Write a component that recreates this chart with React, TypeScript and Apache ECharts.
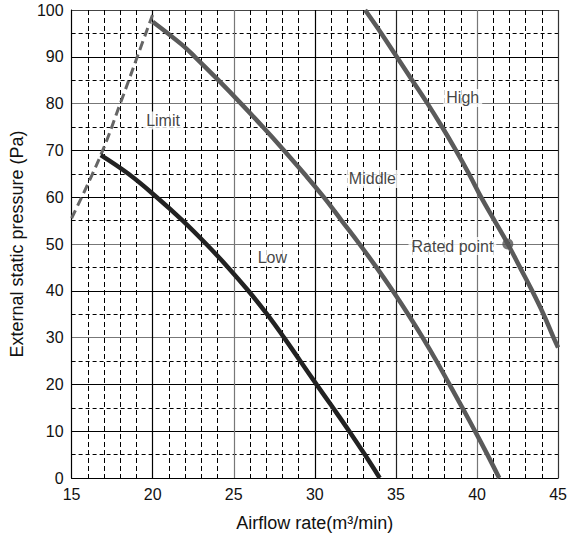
import React, { useEffect, useRef } from "react";
import * as echarts from "echarts";

// Fan curves: [airflow m3/min, static pressure Pa]
const lowCurve: [number, number][] = [
  [16.8, 69], [18.5, 65], [20.25, 60], [21.85, 55], [23.3, 50], [24.65, 45], [25.9, 40],
  [27.05, 35], [28.1, 30], [29.1, 25], [30.1, 20], [31.12, 15], [32.12, 10], [33.08, 5], [34.0, 0],
];
const middleCurve: [number, number][] = [
  [20.0, 97.5], [21.8, 92.6], [22.6, 90], [24.05, 85], [25.45, 80], [26.8, 75], [28.1, 70],
  [29.35, 65], [30.55, 60], [31.65, 55], [32.75, 50], [33.8, 45], [34.8, 40], [35.75, 35],
  [36.65, 30], [37.5, 25], [38.3, 20], [39.1, 15], [39.88, 10], [40.64, 5], [41.37, 0],
];
const highCurve: [number, number][] = [
  [33.1, 100], [34.1, 95], [35.05, 90], [36.0, 85], [36.95, 80], [37.85, 75], [38.7, 70],
  [39.5, 65], [40.25, 60], [41.08, 55], [41.9, 50], [42.65, 45], [43.4, 40], [44.1, 35],
  [44.72, 30], [45.0, 27.9],
];
const limitCurve: [number, number][] = [
  [15, 55.5], [16.8, 69], [18.0, 80], [19.05, 90], [20.1, 100],
];
const ratedPoint: [number, number][] = [[41.9, 50]];

const labelTexts = ["Limit", "Middle", "Low", "High"];
const labelX = [20.64, 33.55, 27.38, 39.12];
const labelY = [76.4, 63.9, 47.1, 81.2];

const xTicks = { min: 15, max: 45, interval: 5 };
const yTicks = { min: 0, max: 100, interval: 10 };

const FONT = "Liberation Sans, Arial, sans-serif";

export default function App() {
  const ref = useRef<HTMLDivElement>(null);
  useEffect(() => {
    document.body.style.margin = "0";
    if (!ref.current) return;
    const chart = echarts.init(ref.current, undefined, { renderer: "svg" });
    const labelStyle = {
      show: true,
      position: "inside",
      color: "#111",
      fontSize: 16,
      fontFamily: FONT,
      backgroundColor: "#fff",
      padding: [1, 3],
      formatter: (p: any) => p.data.name,
    };
    chart.setOption({
      animation: false,
      backgroundColor: "#fff",
      grid: { left: 70, right: 10, top: 10, bottom: 53, containLabel: false },
      xAxis: {
        type: "value",
        ...xTicks,
        name: "Airflow rate(m³/min)",
        nameLocation: "middle",
        nameGap: 36,
        nameTextStyle: { color: "#111", fontSize: 18, fontFamily: FONT },
        axisLine: { show: true, lineStyle: { color: "#000", width: 1 } },
        axisTick: { show: false },
        axisLabel: { color: "#111", fontSize: 16, fontFamily: FONT, margin: 8 },
        splitLine: {
          show: true,
          lineStyle: { color: ["#000", "#000", "#777", "#000", "#222", "#777", "#333"], width: 1.2 },
        },
        minorTick: { show: false, splitNumber: 5 },
        minorSplitLine: { show: true, lineStyle: { color: "#000", type: [5, 3], width: 1 } },
      },
      yAxis: {
        type: "value",
        ...yTicks,
        name: "External static pressure (Pa)",
        nameLocation: "middle",
        nameGap: 43,
        nameTextStyle: { color: "#111", fontSize: 18, fontFamily: FONT },
        axisLine: { show: true, lineStyle: { color: "#000", width: 1 } },
        axisTick: { show: false },
        axisLabel: { color: "#111", fontSize: 16, fontFamily: FONT, margin: 8 },
        splitLine: {
          show: true,
          lineStyle: {
            color: ["#000", "#000", "#000", "#777", "#000", "#777", "#000", "#000", "#777", "#000", "#444"],
            width: 1.2,
          },
        },
        minorTick: { show: false, splitNumber: 2 },
        minorSplitLine: { show: true, lineStyle: { color: "#000", type: [4, 3], width: 1 } },
      },
      series: [
        {
          type: "line",
          data: limitCurve,
          smooth: 0.4,
          showSymbol: false,
          lineStyle: { color: "#666", width: 3, type: [9, 5] },
          z: 3,
        },
        {
          type: "line",
          data: lowCurve,
          smooth: 0.4,
          showSymbol: false,
          lineStyle: { color: "#222", width: 4.5 },
          z: 4,
        },
        {
          type: "line",
          data: middleCurve,
          smooth: 0.4,
          showSymbol: false,
          lineStyle: { color: "#5a5a5a", width: 4.5 },
          z: 4,
        },
        {
          type: "line",
          data: highCurve,
          smooth: 0.4,
          showSymbol: false,
          lineStyle: { color: "#5a5a5a", width: 4.5 },
          z: 4,
        },
        {
          type: "scatter",
          data: labelTexts.map((t, i) => ({ name: t, value: [labelX[i], labelY[i]] })),
          symbolSize: 1,
          itemStyle: { color: "rgba(0,0,0,0)" },
          label: labelStyle,
          z: 5,
        },
        {
          type: "scatter",
          data: ratedPoint.map((v) => ({ name: "Rated point", value: v })),
          symbolSize: 11,
          itemStyle: { color: "#555" },
          label: { ...labelStyle, position: "left", distance: 6, offset: [0, 2] },
          z: 6,
        },
      ],
    });
    return () => chart.dispose();
  }, []);
  return <div ref={ref} style={{ width: 570, height: 537 }} />;
}
